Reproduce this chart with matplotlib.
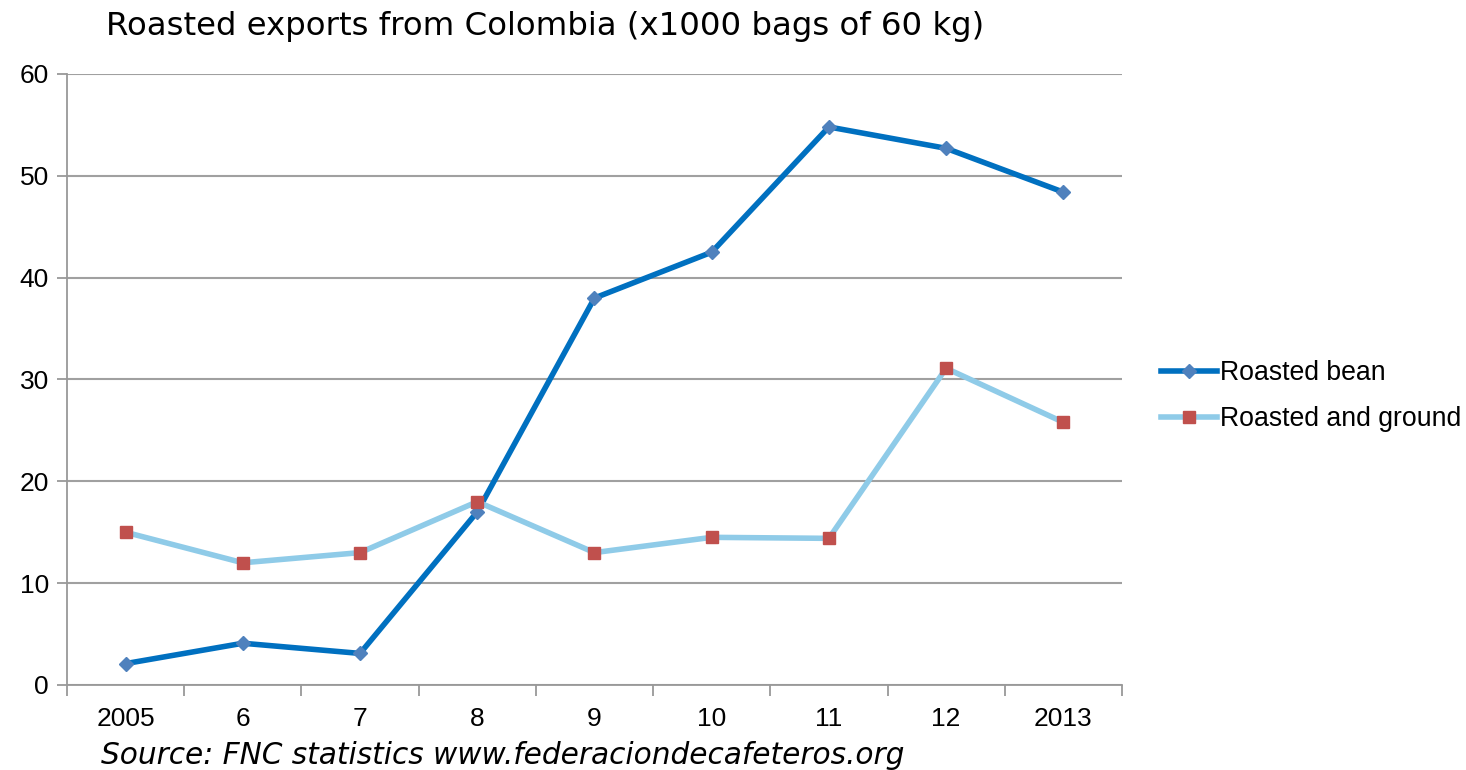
import numpy as np
import matplotlib.pyplot as plt

years = ["2005", "6", "7", "8", "9", "10", "11", "12", "2013"]
roasted_bean = [2.1, 4.1, 3.1, 17.0, 38.0, 42.5, 54.8, 52.7, 48.4]
roasted_ground = [15.0, 12.0, 13.0, 18.0, 13.0, 14.5, 14.4, 31.1, 25.8]

fig = plt.figure(figsize=(14.66, 7.70), dpi=100)
ax = fig.add_axes([0.0457, 0.1104, 0.7196, 0.7935])

x = np.arange(len(years))
ax.plot(x, roasted_bean, color="#0070C0", lw=4.0, marker="D", markersize=7.5,
        markerfacecolor="#4F81BD", markeredgecolor="#4F81BD", label="Roasted bean", zorder=3)
ax.plot(x, roasted_ground, color="#8FCBE8", lw=4.0, marker="s", markersize=9,
        markerfacecolor="#C0504D", markeredgecolor="#C0504D", label="Roasted and ground", zorder=4)

ax.set_xlim(-0.5, len(years) - 0.5)
ax.set_ylim(0, 60)
ax.set_yticks(range(0, 61, 10))
ax.set_xticks(x)
ax.set_xticklabels(years)
ax.set_xticks(np.arange(-0.5, len(years)), minor=True)
ax.tick_params(axis="x", which="major", length=0, pad=16, labelsize=19)
ax.tick_params(axis="x", which="minor", length=8, width=1.3, color="#999999", direction="out")
ax.tick_params(axis="y", length=7, width=1.3, color="#999999", labelsize=19, pad=6)
for lab in ax.get_xticklabels() + ax.get_yticklabels():
    lab.set_family("Liberation Sans")

ax.grid(axis="y", color="#A0A0A0", lw=1.5)
ax.set_axisbelow(True)
for s in ["top", "right"]:
    ax.spines[s].set_visible(False)
for s in ["left", "bottom"]:
    ax.spines[s].set_color("#999999")
    ax.spines[s].set_linewidth(1.3)

fig.text(106 / 1466, 1 - 27 / 770, "Roasted exports from Colombia (x1000 bags of 60 kg)",
         fontsize=23.3, family="DejaVu Sans", va="center", ha="left")
fig.text(101 / 1466, 1 - 755 / 770, "Source: FNC statistics www.federaciondecafeteros.org",
         fontsize=21.3, family="DejaVu Sans", style="italic", va="center", ha="left")

fig.legend(loc="center left", bbox_to_anchor=(1161 / 1466, 1 - 396 / 770), frameon=False,
           prop={"family": "Liberation Sans", "size": 19.2}, handlelength=2.1,
           handletextpad=0.1, labelspacing=0.75, borderaxespad=0, borderpad=0)

fig.savefig("out.png", dpi=100)
